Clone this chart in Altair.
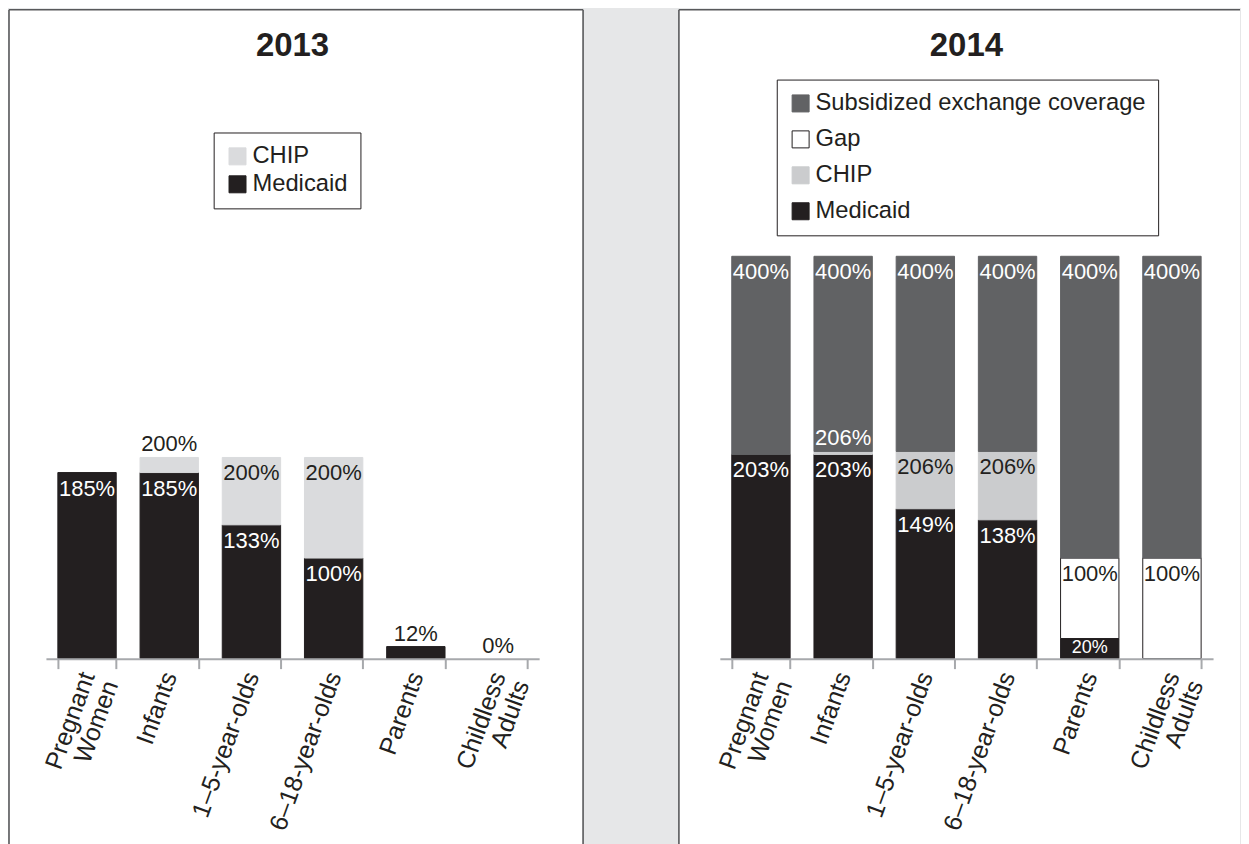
import altair as alt
import pandas as pd

FONT = "Liberation Sans, Arial, Helvetica, sans-serif"

categories = ["Pregnant\nWomen", "Infants", "1–5-year-olds", "6–18-year-olds",
              "Parents", "Childless\nAdults"]

# 2013 eligibility limits (% of poverty level): upper limit of each tier
medicaid_2013 = [185, 185, 133, 100, 12, 0]
chip_2013 = [185, 200, 200, 200, 12, 0]

# 2014 eligibility limits
medicaid_2014 = [203, 203, 149, 138, 20, 0]
chip_2014 = [203, 206, 206, 206, 20, 0]
gap_2014 = [203, 206, 206, 206, 100, 100]
exchange_2014 = [400, 400, 400, 400, 400, 400]

series_2013 = ["CHIP", "Medicaid"]
series_2014 = ["Subsidized exchange coverage", "Gap", "CHIP", "Medicaid"]
fill_2013 = {"CHIP": "#dadbdd", "Medicaid": "#231f20"}
fill_2014 = {"Subsidized exchange coverage": "#616264", "Gap": "#ffffff",
             "CHIP": "#cbccce", "Medicaid": "#231f20"}
dark_series = {"Subsidized exchange coverage", "Medicaid"}

W, H = 494, 403
TOP = -247          # panel top, relative to plot area
BOTTOM = H + 200    # panel bottom (runs past the picture's edge)
BORDER = "#58595b"


def build_tables(tiers):
    """tiers: list of (series name, upper limits) from the bottom up."""
    segs, labels = [], []
    for i, cat in enumerate(categories):
        lower = 0
        stack = []
        for name, ups in tiers:
            up = ups[i]
            if up > lower:
                stack.append((name, lower, up))
            lower = max(lower, up)
        for k, (name, lo, hi) in enumerate(stack):
            segs.append({"cat": cat, "series": name, "lo": lo, "hi": hi})
            h = hi - lo
            top = k == len(stack) - 1
            if h >= 30:
                col = "white" if name in dark_series else "#231f20"
                labels.append({"cat": cat, "v": hi, "t": f"{hi}%", "c": col, "p": "in"})
            elif h >= 18 and not top:
                labels.append({"cat": cat, "v": hi, "t": f"{hi}%", "c": "white", "p": "small"})
            elif top:
                labels.append({"cat": cat, "v": hi, "t": f"{hi}%", "c": "#231f20", "p": "above"})
            else:
                nxt = stack[k + 1][0]
                col = "white" if nxt in dark_series else "#231f20"
                labels.append({"cat": cat, "v": hi, "t": f"{hi}%", "c": col, "p": "above"})
        if not stack:
            labels.append({"cat": cat, "v": 0, "t": "0%", "c": "#231f20", "p": "above"})
    return pd.DataFrame(segs), pd.DataFrame(labels)


def panel(title, tiers, domain, fills, legend_xy, legend_pad, rect_x, sides):
    segs, labels = build_tables(tiers)
    strokes = ["#231f20" if d == "Gap" else fills[d] for d in domain]
    xenc = alt.X("cat:N", sort=categories,
                 scale=alt.Scale(paddingInner=0.29, paddingOuter=0.145),
                 axis=alt.Axis(title=None, tickBand="extent", labelAngle=-70,
                               labelAlign="right", labelBaseline="middle",
                               labelFontSize=25, labelFont=FONT, labelColor="#231f20",
                               labelLineHeight=25, labelPadding=4,
                               domainColor="#a7a9ac", domainWidth=2,
                               tickColor="#a7a9ac", tickWidth=2, tickSize=10,
                               zindex=1,
                               labelExpr="split(datum.label, '\\n')"))
    yscale = alt.Scale(domain=[0, 400], nice=False, zero=True)
    leg = alt.Legend(title=None, orient="none", legendX=legend_xy[0], legendY=legend_xy[1],
                     symbolType="square", symbolSize=290, symbolStrokeWidth=1,
                     strokeColor="#231f20", fillColor="white",
                     padding=legend_pad[0], rowPadding=legend_pad[1],
                     labelFontSize=23.8, labelFont=FONT, labelColor="#231f20",
                     labelOffset=3, labelLimit=400)

    bg = alt.Chart(alt.Data(values=[{}])).mark_rect(fill="white").encode(
        x=alt.value(rect_x[0]), x2=alt.value(rect_x[1]),
        y=alt.value(TOP), y2=alt.value(BOTTOM))

    edges = []
    if "left" in sides:
        edges.append({"x": rect_x[0], "x2": rect_x[0], "y": TOP, "y2": BOTTOM})
    if "top" in sides:
        edges.append({"x": rect_x[0], "x2": rect_x[1], "y": TOP, "y2": TOP})
    if "right" in sides:
        edges.append({"x": rect_x[1], "x2": rect_x[1], "y": TOP, "y2": BOTTOM})
    border = alt.layer(*[
        alt.Chart(alt.Data(values=[{}])).mark_rule(color=BORDER, strokeWidth=1.6).encode(
            x=alt.value(e["x"]), x2=alt.value(e["x2"]),
            y=alt.value(e["y"]), y2=alt.value(e["y2"]))
        for e in edges])

    ttl = alt.Chart(alt.Data(values=[{"t": title}])).mark_text(
        font=FONT, fontSize=33, fontWeight="bold", color="#231f20", baseline="middle"
    ).encode(x=alt.value(W / 2), y=alt.value(-211), text="t:N")

    bars = alt.Chart(segs).mark_bar(strokeWidth=1).encode(
        x=xenc,
        y=alt.Y("lo:Q", scale=yscale, axis=None),
        y2="hi:Q",
        color=alt.Color("series:N", scale=alt.Scale(domain=domain,
                        range=[fills[d] for d in domain]), legend=leg),
        stroke=alt.Stroke("series:N", scale=alt.Scale(domain=domain, range=strokes),
                          legend=leg),
    )

    base = alt.Chart(labels).encode(
        x=alt.X("cat:N", sort=categories), y=alt.Y("v:Q", scale=yscale),
        text="t:N", color=alt.Color("c:N", scale=None))
    lab_in = base.transform_filter("datum.p == 'in'").mark_text(
        font=FONT, fontSize=22, baseline="top", dy=6)
    lab_small = base.transform_filter("datum.p == 'small'").mark_text(
        font=FONT, fontSize=18, baseline="top", dy=1)
    lab_above = base.transform_filter("datum.p == 'above'").mark_text(
        font=FONT, fontSize=22, baseline="bottom", dy=-1)

    return alt.layer(bg, border, bars, lab_in, lab_small, lab_above, ttl).resolve_scale(
        color="independent", stroke="independent"
    ).properties(width=W, height=H)


left = panel("2013", [("Medicaid", medicaid_2013), ("CHIP", chip_2013)],
             series_2013, fill_2013, (168, -124), (12, 3),
             (-37, W + 44), ("left", "top", "right"))
right = panel("2014", [("Medicaid", medicaid_2014), ("CHIP", chip_2014),
                       ("Gap", gap_2014), ("Subsidized exchange coverage", exchange_2014)],
              series_2014, fill_2014, (57, -177), (12, 11),
              (-41, 521), ("left", "top"))

chart = alt.hconcat(left, right, spacing=181, bounds="flush").resolve_scale(
    x="independent", y="independent", color="independent", stroke="independent"
).configure(background="#e6e7e8", padding=0).configure_view(stroke=None)

chart.save("out.html", embed_options={"renderer": "svg", "actions": False})
